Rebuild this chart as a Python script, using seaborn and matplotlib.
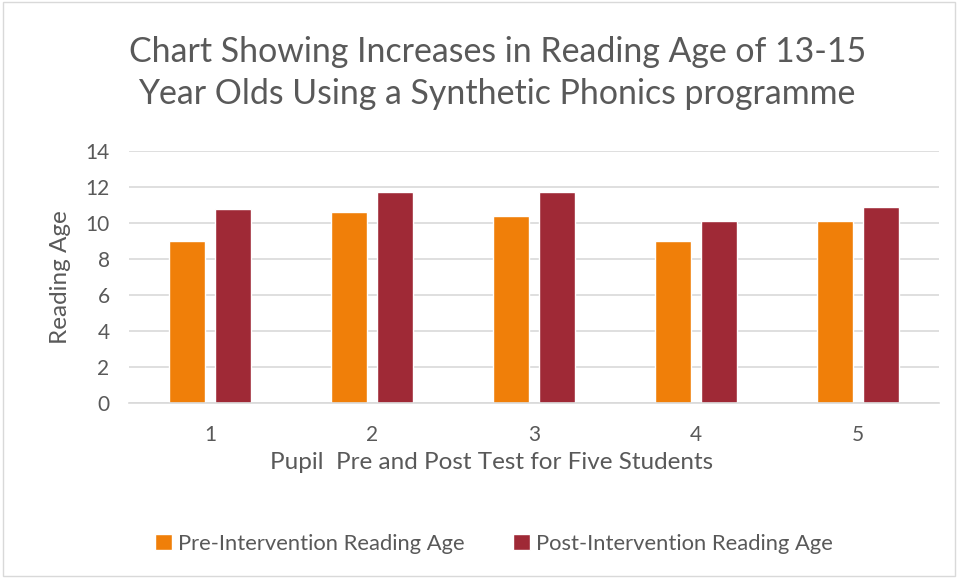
import matplotlib.pyplot as plt
import seaborn as sns
import pandas as pd

pupils = ['1', '2', '3', '4', '5']
pre_scores = [9.0, 10.6, 10.4, 9.0, 10.1]
post_scores = [10.8, 11.7, 11.7, 10.1, 10.9]
series_names = ['Pre-Intervention Reading Age', 'Post-Intervention Reading Age']

df = pd.DataFrame({
    'pupil': pupils * 2,
    'age': pre_scores + post_scores,
    'series': [series_names[0]] * 5 + [series_names[1]] * 5,
})

sns.set_theme(style='white')
plt.rcParams['font.family'] = ['Lato', 'DejaVu Sans']
grey = '#595959'

fig = plt.figure(figsize=(9.58, 5.78), dpi=100)
ax = fig.add_axes([0.1347, 0.3028, 0.8455, 0.436])

sns.barplot(data=df, x='pupil', y='age', hue='series', order=pupils,
            hue_order=series_names, palette=['#F07F09', '#9F2936'],
            saturation=1, width=0.574, gap=0.23, ax=ax, legend=True)

ax.set_ylim(0, 14)
ax.set_yticks(range(0, 15, 2))
ax.set_xlim(-0.5, 4.5)
ax.yaxis.grid(True, color='#d9d9d9', linewidth=1.2)
ax.set_axisbelow(True)
for s in ['top', 'right', 'left']:
    ax.spines[s].set_visible(False)
ax.spines['bottom'].set_color('#d9d9d9')
ax.spines['bottom'].set_linewidth(1.2)
ax.tick_params(axis='both', colors=grey, labelsize=15, length=0)
ax.tick_params(axis='x', pad=16)
ax.tick_params(axis='y', pad=14)

ax.set_xlabel('Pupil  Pre and Post Test for Five Students', fontsize=17.5, color=grey, labelpad=5)
ax.xaxis.label.set_x(0.447)
ax.set_ylabel('Reading Age', fontsize=17.5, color=grey, labelpad=10)

fig.text(0.519, 0.874, 'Chart Showing Increases in Reading Age of 13-15\nYear Olds Using a Synthetic Phonics programme',
         fontsize=24.4, color=grey, ha='center', va='center', linespacing=1.38)

ax.legend(loc='center', bbox_to_anchor=(0.516, 0.059), bbox_transform=fig.transFigure,
          ncol=2, frameon=False, fontsize=15.8, labelcolor=grey,
          handlelength=0.75, handleheight=0.75, columnspacing=2.2, handletextpad=0.3)

fig.patches.append(plt.Rectangle((0.003, 0.003), 0.994, 0.994, transform=fig.transFigure,
                                 fill=False, edgecolor='#d9d9d9', linewidth=1))

fig.savefig('out.png', dpi=100)
